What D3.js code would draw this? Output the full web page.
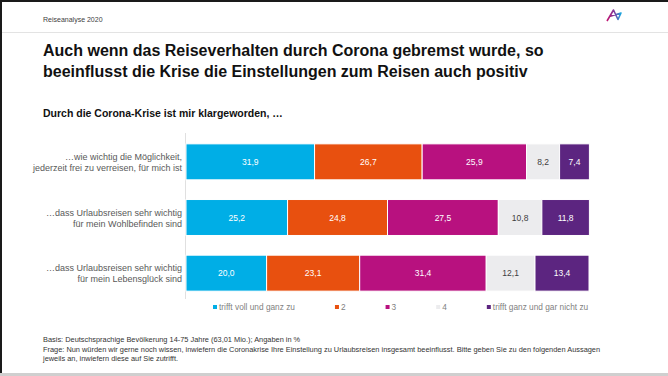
<!DOCTYPE html>
<html>
<head>
<meta charset="utf-8">
<script src="https://cdn.jsdelivr.net/npm/d3@7"></script>
<style>
  html, body { margin: 0; padding: 0; background: #fff; }
  svg { display: block; font-family: "Liberation Sans", Arial, sans-serif; }
</style>
</head>
<body>
<svg id="chart" width="668" height="376"></svg>
<script>
// Data
const statements = [
    ["…wie wichtig die Möglichkeit,", "jederzeit frei zu verreisen, für mich ist"],
    ["…dass Urlaubsreisen sehr wichtig", "für mein Wohlbefinden sind"],
    ["…dass Urlaubsreisen sehr wichtig", "für mein Lebensglück sind"]
];
const categories = ["trifft voll und ganz zu", "2", "3", "4", "trifft ganz und gar nicht zu"];
const values = [
    [31.9, 26.7, 25.9, 8.2, 7.4],
    [25.2, 24.8, 27.5, 10.8, 11.8],
    [20.0, 23.1, 31.4, 12.1, 13.4]
];
const footnotes = [
    "Basis: Deutschsprachige Bevölkerung 14-75 Jahre (63,01 Mio.); Angaben in %",
    "Frage: Nun würden wir gerne noch wissen, inwiefern die Coronakrise Ihre Einstellung zu Urlaubsreisen insgesamt beeinflusst. Bitte geben Sie zu den folgenden Aussagen",
    "jeweils an, inwiefern diese auf Sie zutrifft."
];

// Styling
const COLORS = ['#00aee6', '#e8500f', '#b8117f', '#ececee', '#5c2580'];
const LABEL_COLORS = ['#fff', '#fff', '#fff', '#404040', '#fff'];

const svg = d3.select('#chart');

// Frame
svg.append('rect').attr('x', 0).attr('y', 0).attr('width', 668).attr('height', 2).attr('fill', '#1a1a1a');
svg.append('rect').attr('x', 0).attr('y', 0).attr('width', 2).attr('height', 373).attr('fill', '#1a1a1a');
svg.append('rect').attr('x', 0).attr('y', 373).attr('width', 668).attr('height', 3).attr('fill', '#cfcfcf');
svg.append('line').attr('x1', 2).attr('x2', 668).attr('y1', 32.5).attr('y2', 32.5)
    .attr('stroke', '#e3e3e3').attr('stroke-width', 1);

// Header
svg.append('text').attr('x', 43).attr('y', 22).attr('font-size', 7).attr('fill', '#404040')
    .text('Reiseanalyse 2020');

// Logo
const grad = svg.append('defs').append('linearGradient').attr('id', 'logoGrad')
    .attr('x1', '0%').attr('x2', '100%').attr('y1', '0%').attr('y2', '0%');
grad.append('stop').attr('offset', '0%').attr('stop-color', '#c3126f');
grad.append('stop').attr('offset', '55%').attr('stop-color', '#7a3da0');
grad.append('stop').attr('offset', '100%').attr('stop-color', '#1aa9e0');
svg.append('path')
    .attr('d', 'M607,21 L613.5,10 L618,19.5 L621,13 L609.5,16.5')
    .attr('fill', 'none').attr('stroke', 'url(#logoGrad)').attr('stroke-width', 1.6)
    .attr('stroke-linejoin', 'round');

// Title
const title = svg.append('text').attr('font-size', 16).attr('font-weight', 'bold').attr('fill', '#111');
title.append('tspan').attr('x', 43).attr('y', 56).text('Auch wenn das Reiseverhalten durch Corona gebremst wurde, so');
title.append('tspan').attr('x', 43).attr('y', 77).text('beeinflusst die Krise die Einstellungen zum Reisen auch positiv');

svg.append('text').attr('x', 43).attr('y', 117).attr('font-size', 10.5).attr('font-weight', 'bold')
    .attr('fill', '#111').text('Durch die Corona-Krise ist mir klargeworden, …');

// Scales
const x = d3.scaleLinear().domain([0, 100]).range([186, 589]);
const y = d3.scaleBand().domain(d3.range(statements.length)).range([134, 301])
    .paddingInner(0.354).paddingOuter(0.177);

// Axis line
svg.append('line').attr('x1', x(0) - 0.5).attr('x2', x(0) - 0.5).attr('y1', 133).attr('y2', 299)
    .attr('stroke', '#e0e0e0');

// Bars
values.forEach((row, i) => {
    let acc = 0;
    const segs = row.map((v, j) => {
        const s = { x0: acc, x1: acc + v, v, j };
        acc += v;
        return s;
    });
    const g = svg.append('g');
    g.selectAll('rect').data(segs).enter().append('rect')
        .attr('x', d => x(d.x0))
        .attr('y', y(i))
        .attr('width', d => x(d.x1) - x(d.x0))
        .attr('height', y.bandwidth())
        .attr('fill', d => COLORS[d.j])
        .attr('stroke', '#fff').attr('stroke-width', 1);
    g.selectAll('text').data(segs).enter().append('text')
        .attr('x', d => (x(d.x0) + x(d.x1)) / 2)
        .attr('y', y(i) + y.bandwidth() / 2 + 3)
        .attr('text-anchor', 'middle')
        .attr('font-size', 8.5)
        .attr('fill', d => LABEL_COLORS[d.j])
        .text(d => d3.format('.1f')(d.v).replace('.', ','));

    // Category label
    const lbl = svg.append('text').attr('text-anchor', 'end').attr('font-size', 9).attr('fill', '#595959');
    statements[i].forEach((line, k) => {
        lbl.append('tspan').attr('x', 182)
            .attr('y', y(i) + y.bandwidth() / 2 - 2 + k * 11)
            .text(line);
    });
});

// Legend
const legend = svg.append('g').attr('font-size', 8.3).attr('fill', '#7f7f7f');
let lx = 213;
categories.forEach((c, j) => {
    legend.append('rect').attr('x', lx).attr('y', 305).attr('width', 4).attr('height', 4)
        .attr('fill', COLORS[j]);
    const t = legend.append('text').attr('x', lx + 6).attr('y', 310).text(c);
    lx += 6 + t.node().getComputedTextLength() + 40;
});

// Footnotes
const foot = svg.append('text').attr('font-size', 7.4).attr('fill', '#333');
footnotes.forEach((f, k) => {
    foot.append('tspan').attr('x', 43).attr('y', 342 + k * 9.5).text(f);
});
</script>
</body>
</html>
